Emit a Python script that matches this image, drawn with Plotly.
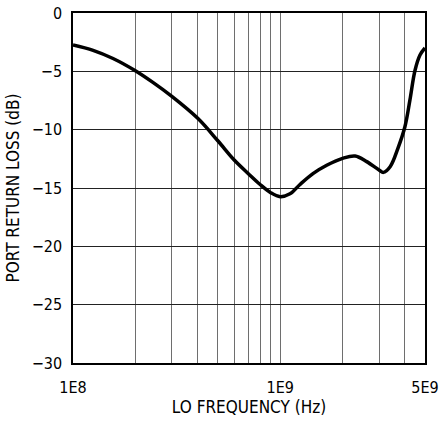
import plotly.graph_objects as go

freq_hz = [1e8, 1.25e8, 1.56e8, 2e8, 2.43e8, 3e8, 4e8, 5e8, 6e8, 7e8,
           8e8, 9e8, 1e9, 1.115e9, 1.246e9, 1.445e9, 1.677e9, 2e9, 2.3e9, 2.615e9,
           3e9, 3.15e9, 3.4e9, 3.7e9, 4e9, 4.23e9, 4.47e9, 4.73e9, 5e9]
return_loss_db = [-2.74, -3.2, -3.9, -4.95, -5.95, -7.15, -9.03, -10.95,
                  -12.6, -13.75, -14.7, -15.4, -15.74, -15.5, -14.7, -13.75, -13.05,
                  -12.46, -12.26, -12.74, -13.45, -13.66, -13.15, -11.6, -9.75, -7.45,
                  -4.95, -3.6, -3.0]

x_grid = [1e8, 2e8, 3e8, 4e8, 5e8, 6e8, 7e8, 8e8, 9e8, 1e9, 2e9, 3e9, 4e9, 5e9]
x_labels = {1e8: "1E8", 1e9: "1E9", 5e9: "5E9"}
x_ticktext = [x_labels.get(v, "") for v in x_grid]
y_ticks = [0, -5, -10, -15, -20, -25, -30]
y_ticktext = ["0" if v == 0 else "\u2212" + str(-v) for v in y_ticks]

FONT = "Liberation Sans Narrow, DejaVu Sans Condensed, Liberation Sans, sans-serif"

fig = go.Figure()
fig.add_trace(go.Scatter(
    x=freq_hz, y=return_loss_db, mode="lines",
    line=dict(color="black", width=3.5, shape="spline", smoothing=1.0),
    hoverinfo="skip", showlegend=False,
))

fig.update_layout(
    width=440, height=427,
    margin=dict(l=73, r=15, t=13, b=64),
    paper_bgcolor="white", plot_bgcolor="white",
    font=dict(family=FONT, size=16, color="black"),
    xaxis=dict(
        type="log", range=[8, 9.69897], automargin=False,
        tickmode="array", tickvals=x_grid, ticktext=x_ticktext,
        showgrid=True, gridcolor="#6e6e6e", gridwidth=1,
        showline=True, linecolor="black", linewidth=1.5, mirror=True,
        ticks="", zeroline=False, ticklabelstandoff=9,
        title=dict(text="LO FREQUENCY (Hz)", standoff=4, font=dict(size=17)),
        tickfont=dict(size=16),
    ),
    yaxis=dict(
        range=[-30, 0], automargin=False,
        tickmode="array", tickvals=y_ticks, ticktext=y_ticktext,
        showgrid=True, gridcolor="#222222", gridwidth=1,
        showline=True, linecolor="black", linewidth=1.5, mirror=True,
        ticks="", zeroline=False, ticklabelstandoff=6,
        title=dict(text="PORT RETURN LOSS (dB)", standoff=8, font=dict(size=17)),
        tickfont=dict(size=16),
    ),
)

fig.write_html("out.html", config={"displayModeBar": False},
               post_script="document.body.style.margin='0px';")
